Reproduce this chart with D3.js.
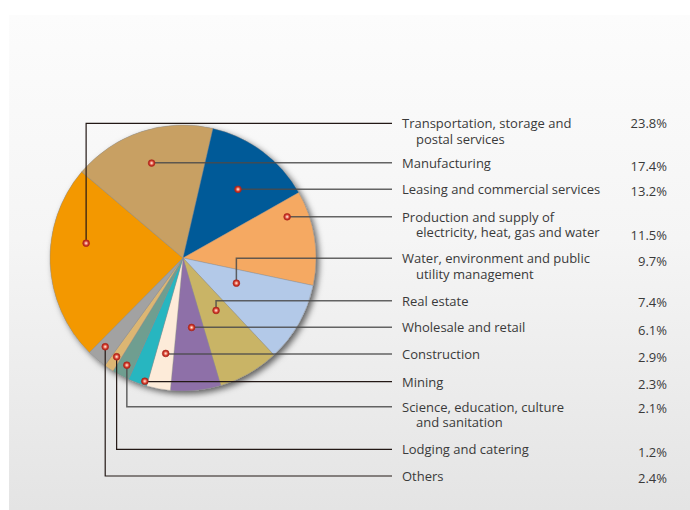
<!DOCTYPE html>
<html>
<head>
<meta charset="utf-8">
<script src="https://cdn.jsdelivr.net/npm/d3@7"></script>
<style>
  html, body { margin: 0; padding: 0; background: #ffffff; }
  svg { display: block; }
  text { font-family: "Open Sans", "Noto Sans", sans-serif; font-size: 13px; fill: #3a3a3a; }
</style>
</head>
<body>
<svg id="chart" width="690" height="510"></svg>
<script>
// Industry shares, in legend order (clockwise around the pie)
const categories = [
  "Transportation, storage and\npostal services",
  "Manufacturing",
  "Leasing and commercial services",
  "Production and supply of\nelectricity, heat, gas and water",
  "Water, environment and public\nutility management",
  "Real estate",
  "Wholesale and retail",
  "Construction",
  "Mining",
  "Science, education, culture\nand sanitation",
  "Lodging and catering",
  "Others"
];
const shares = [23.8, 17.4, 13.2, 11.5, 9.7, 7.4, 6.1, 2.9, 2.3, 2.1, 1.2, 2.4];
const colors = [
  "#f39800", "#c8a063", "#005a98", "#f5a962", "#b3c9e8", "#c9b466",
  "#8e70a8", "#fdebd9", "#27b6c0", "#6f9e90", "#dcb673", "#a2a2a2"
];

// ---- layout ----
const W = 690, H = 510;
const cx = 183, cy = 258, R = 133;
const startDeg = 224.7;                 // where the first slice begins (clockwise from 12 o'clock)
const leaderEndX = 392, textX = 402, indentX = 416, valueX = 667;
const rowLineY = [123.3, 162.7, 189.3, 216.7, 258.3, 300.7, 327.3, 354, 381.7, 406.7, 449.3, 476];
const valueDy = [0, 3.3, 1.7, 18.3, 2.4, 1.6, 2.7, 2.7, 2.6, 1.7, 2.6, 2.3];
const lineGap = 15.6;
// marker placement inside each slice: fraction of the slice's sweep, and distance from centre
const markerFrac = [0.63, 0.50, 0.54, 0.19, 0.38, 0.41, 0.43, 0.46, 0.16, 0.46, 0.50, 0.60];
const markerDist = [98, 100, 88, 112, 59, 62, 70, 97, 129, 121, 119, 118];
const softLeader = [false, true, true, true, true, true, true, true, false, true, false, false];

const svg = d3.select("#chart");
const defs = svg.append("defs");

// panel background gradient
const bg = defs.append("linearGradient").attr("id", "panelGrad")
  .attr("x1", 0).attr("y1", 0).attr("x2", 0).attr("y2", 1);
bg.append("stop").attr("offset", "0%").attr("stop-color", "#fcfcfc");
bg.append("stop").attr("offset", "45%").attr("stop-color", "#f5f5f5");
bg.append("stop").attr("offset", "100%").attr("stop-color", "#e4e4e4");

// drop shadow under the pie
const sh = defs.append("filter").attr("id", "pieShadow")
  .attr("x", "-20%").attr("y", "-20%").attr("width", "140%").attr("height", "140%");
sh.append("feDropShadow").attr("dx", 3).attr("dy", 3).attr("stdDeviation", 3.2)
  .attr("flood-color", "#000").attr("flood-opacity", 0.6);

// glossy red marker
const mg = defs.append("radialGradient").attr("id", "markerGrad")
  .attr("cx", "50%").attr("cy", "50%").attr("r", "50%");
mg.append("stop").attr("offset", "0%").attr("stop-color", "#fff1e6");
mg.append("stop").attr("offset", "30%").attr("stop-color", "#f4a08c");
mg.append("stop").attr("offset", "65%").attr("stop-color", "#d23a2c");
mg.append("stop").attr("offset", "100%").attr("stop-color", "#a51f17");

svg.append("rect").attr("x", 0).attr("y", 0).attr("width", W).attr("height", H).attr("fill", "#ffffff");
svg.append("rect").attr("x", 9).attr("y", 15).attr("width", W - 9).attr("height", H - 15)
  .attr("fill", "url(#panelGrad)");

// ---- pie ----
const toRad = d => d * Math.PI / 180;
const pie = d3.pie().sort(null).value(d => d)
  .startAngle(toRad(startDeg)).endAngle(toRad(startDeg) + 2 * Math.PI);
const arcs = pie(shares);
const arc = d3.arc().innerRadius(0).outerRadius(R);

const pieG = svg.append("g").attr("transform", `translate(${cx},${cy})`);
pieG.append("circle").attr("r", R).attr("fill", "#999").attr("filter", "url(#pieShadow)");
pieG.selectAll("path.slice").data(arcs).join("path")
  .attr("class", "slice")
  .attr("d", arc)
  .attr("fill", (d, i) => colors[i])
  .attr("stroke", "#8c8c8c").attr("stroke-opacity", 0.6).attr("stroke-width", 0.6);

// ---- leaders ----
const markers = arcs.map((a, i) => {
  const ang = a.startAngle + markerFrac[i] * (a.endAngle - a.startAngle);
  return [cx + markerDist[i] * Math.sin(ang), cy - markerDist[i] * Math.cos(ang)];
});

const leaders = svg.append("g");
markers.forEach((m, i) => {
  const y = rowLineY[i];
  leaders.append("path")
    .attr("d", `M${m[0]},${m[1]}V${y}H${leaderEndX}`)
    .attr("fill", "none")
    .attr("stroke", softLeader[i] ? "#4a4a4a" : "#231815")
    .attr("stroke-opacity", softLeader[i] ? 0.85 : 1)
    .attr("stroke-width", softLeader[i] ? 1.5 : 1.2);
});
leaders.selectAll("circle").data(markers).join("circle")
  .attr("cx", d => d[0]).attr("cy", d => d[1]).attr("r", 3.4)
  .attr("fill", "url(#markerGrad)")
  .attr("stroke", "#b0261c").attr("stroke-width", 0.6);

// ---- labels ----
const labels = svg.append("g");
categories.forEach((c, i) => {
  const base = rowLineY[i] + 5;
  c.split("\n").forEach((line, j) => {
    labels.append("text")
      .attr("x", j === 0 ? textX : indentX)
      .attr("y", base + j * lineGap)
      .text(line);
  });
  labels.append("text")
    .attr("x", valueX).attr("y", base + valueDy[i])
    .attr("text-anchor", "end")
    .text(d3.format(".1f")(shares[i]) + "%");
});
</script>
</body>
</html>
